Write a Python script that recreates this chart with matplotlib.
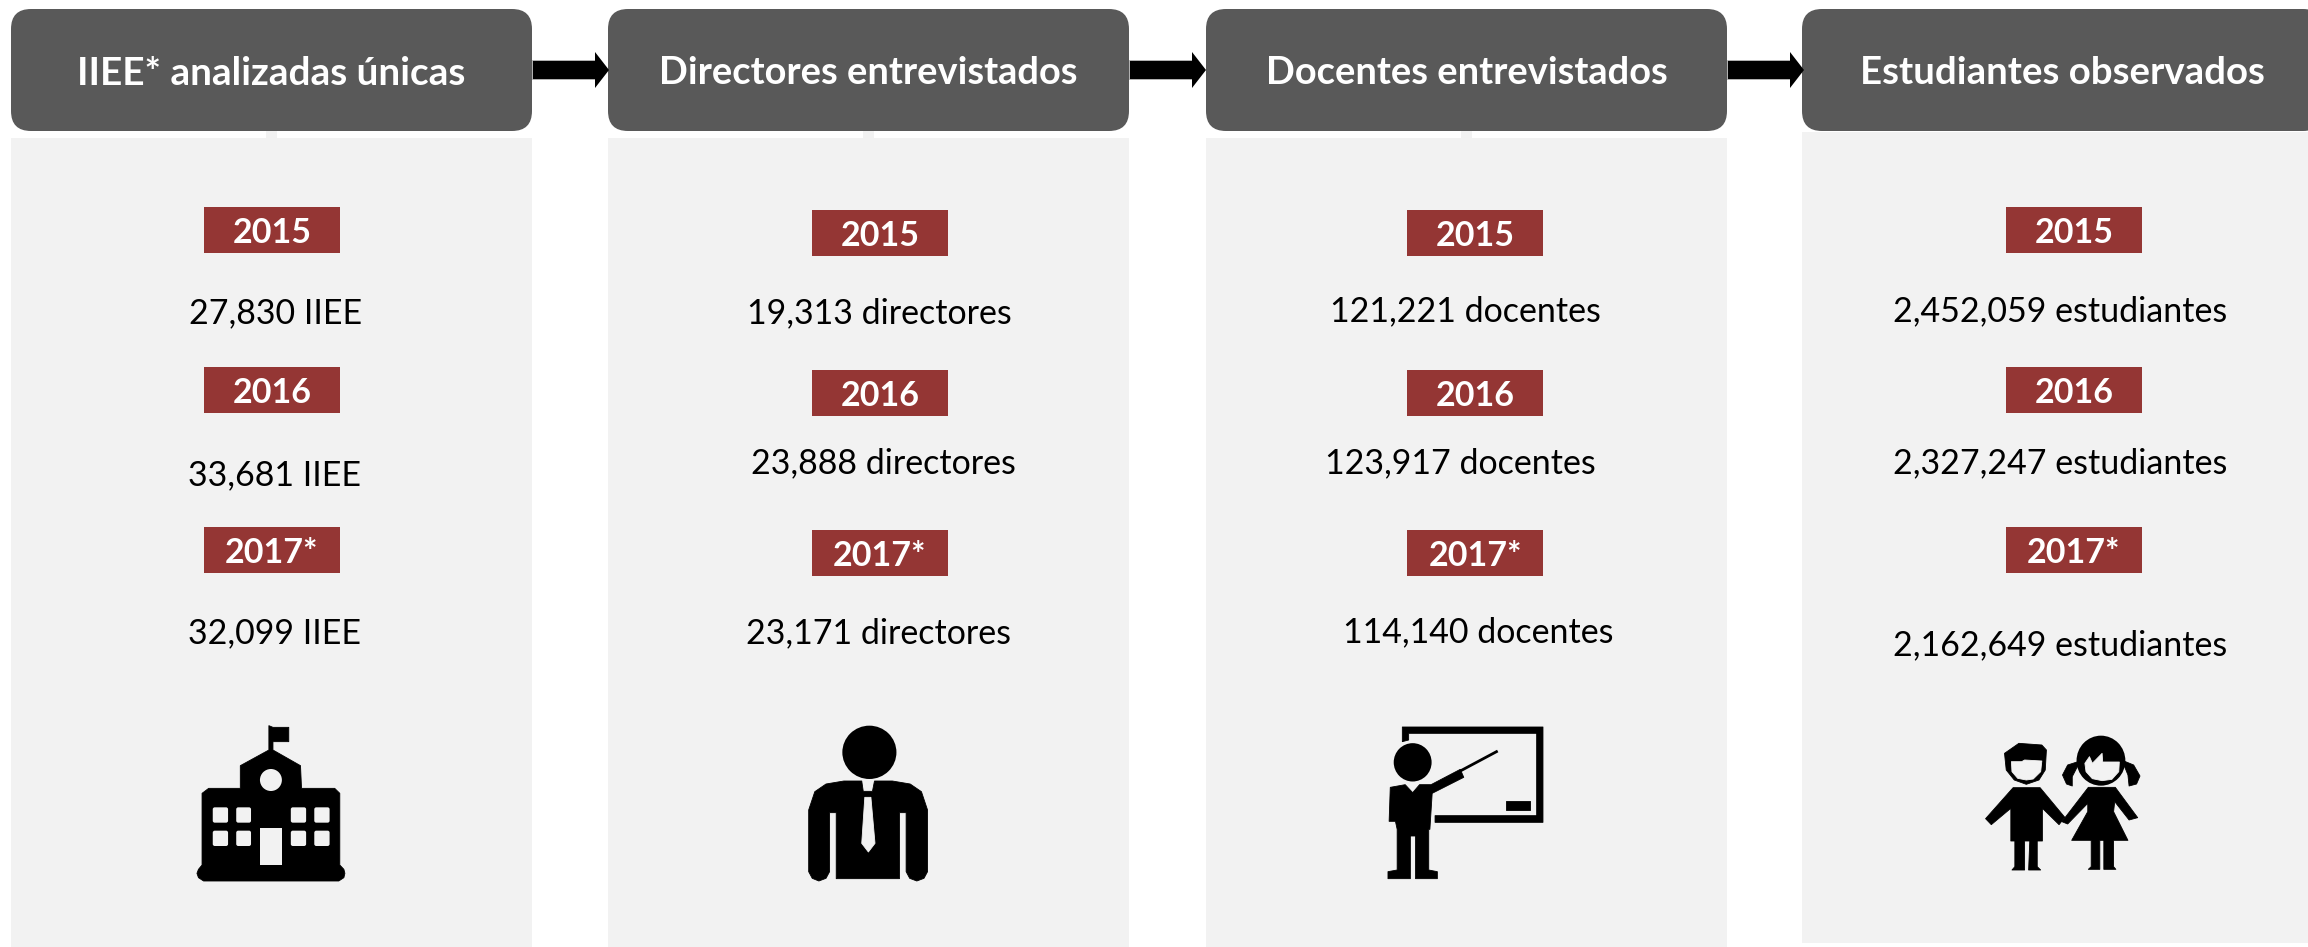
# Flujo de la muestra: IIEE, directores, docentes y estudiantes por año
import matplotlib
matplotlib.use("Agg")
import matplotlib.pyplot as plt
from matplotlib.patches import Rectangle, FancyBboxPatch, Polygon, Ellipse

plt.rcParams["font.family"] = ["Lato", "DejaVu Sans"]

titles = ["IIEE* analizadas únicas", "Directores entrevistados",
          "Docentes entrevistados", "Estudiantes observados"]
years = ["2015", "2016", "2017*"]
units = ["IIEE", "directores", "docentes", "estudiantes"]
iiee = [27830, 33681, 32099]
directores = [19313, 23888, 23171]
docentes = [121221, 123917, 114140]
estudiantes = [2452059, 2327247, 2162649]
values = [iiee, directores, docentes, estudiantes]

DARK = "#595959"
PANEL = "#f2f2f2"
RED = "#943634"

# layout, in full size pixels
col_left = [11, 608, 1206, 1802]
col_width = 521
panel_top = [138, 138, 138, 132]
panel_bottom = [947, 947, 947, 943]
badge_cx = [272, 880, 1475, 2074]
badge_cy = [[230, 390, 550], [233, 393, 553], [233, 393, 553], [230, 390, 550]]
text_cx = [[276, 274, 274], [879, 883, 879], [1465, 1460, 1478], [2060, 2060, 2060]]
text_cy = [[310, 472, 630], [310, 460, 630], [308, 460, 629], [308, 460, 642]]
title_fs = [27.9, 27.4, 27.4, 27.6]

fig = plt.figure(figsize=(23.08, 9.47), dpi=100)
ax = fig.add_axes([0, 0, 1, 1])
ax.set_xlim(0, 2308)
ax.set_ylim(947, 0)
ax.axis("off")


def poly(pts, fx, fy, color):
    ax.add_patch(Polygon([(fx(x), fy(y)) for x, y in pts], closed=True, fc=color, ec=color,
                         lw=0.6, joinstyle="round", zorder=4))


for i in range(4):
    left = col_left[i]
    ax.add_patch(Rectangle((left, panel_top[i]), col_width, panel_bottom[i] - panel_top[i],
                           fc=PANEL, ec="none", zorder=1))
    if i < 3:
        ax.add_patch(Rectangle((left + 255, 128), 11, 12, fc=PANEL, ec="none", zorder=1))
    ax.add_patch(FancyBboxPatch((left + 20, 9 + 20), col_width - 40, 122 - 40,
                                boxstyle="round,pad=20,rounding_size=20",
                                fc=DARK, ec="none", zorder=2, clip_on=True))
    ax.text(left + col_width / 2, 73, titles[i], color="white", fontsize=title_fs[i], fontweight="bold",
            ha="center", va="center", zorder=3)
    for j in range(3):
        ax.add_patch(Rectangle((badge_cx[i] - 68, badge_cy[i][j] - 23), 136, 46, fc=RED, ec="none", zorder=2))
        ax.text(badge_cx[i], badge_cy[i][j] + 3, years[j], color="white", fontsize=24.5, fontweight="bold",
                ha="center", va="center", zorder=3)
        ax.text(text_cx[i][j], text_cy[i][j] + 3, f"{values[i][j]:,} {units[i]}", color="black", fontsize=24.5,
                ha="center", va="center", zorder=3)

# arrows between the headers
for i in range(3):
    x0 = col_left[i] + col_width
    ax.add_patch(Rectangle((x0, 60), 64, 19, fc="black", ec="#bbbbbb", lw=0.6, zorder=2))
    ax.add_patch(Polygon([(x0 + 63, 52), (x0 + 77, 70), (x0 + 63, 88)], closed=True, fc="black", ec="none", zorder=3))


# building icon
def bx(x):
    return 150 + x / 1.96


def by(y):
    return 700 + y / 3


poly([(233, 77), (241, 82), (272, 82), (272, 125), (241, 125), (241, 150), (295, 197), (297, 265), (362, 265),
      (372, 280), (372, 495), (380, 508), (382, 520), (380, 533), (370, 543), (105, 543), (95, 533), (92, 520),
      (95, 508), (102, 495), (102, 280), (115, 265), (177, 265), (177, 197), (233, 150)], bx, by, "black")
for wx in [(123, 153), (169, 198), (276, 306), (322, 352)]:
    for wy in [(322, 368), (392, 438)]:
        ax.add_patch(FancyBboxPatch((bx(wx[0]) + 2, by(wy[0]) + 2), (wx[1] - wx[0]) / 1.96 - 4, (wy[1] - wy[0]) / 3 - 4,
                                    boxstyle="round,pad=2,rounding_size=2", fc=PANEL, ec="none", zorder=5))
ax.add_patch(Rectangle((bx(216), by(384)), 43 / 1.96, 110 / 3, fc=PANEL, ec="none", zorder=5))
ax.add_patch(Ellipse((bx(237), by(240)), 43 / 1.96, 66 / 3, fc=PANEL, ec="none", zorder=5))

# director icon
ax.add_patch(Ellipse((bx(1410), by(157)), 106 / 1.96, 160 / 3, fc="black", ec="none", zorder=4))
poly([(1395, 243), (1360, 243), (1325, 252), (1303, 275), (1291, 330), (1291, 515), (1298, 535), (1311, 543),
      (1325, 535), (1332, 515), (1332, 338), (1345, 338), (1345, 536), (1469, 536), (1469, 338), (1482, 338),
      (1482, 515), (1489, 535), (1503, 543), (1517, 535), (1524, 515), (1524, 330), (1512, 275), (1490, 252),
      (1455, 243), (1420, 243), (1416, 274), (1398, 274)], bx, by, "black")
poly([(1401, 292), (1413, 292), (1421, 430), (1408, 456), (1395, 430)], bx, by, PANEL)
ax.patches[-1].set_zorder(5)


# teacher icon
def tx(x):
    return 1330 + x / 1.742


poly([(126, 81), (371, 81), (371, 367), (183, 367), (183, 347), (360, 347), (360, 100), (137, 100), (137, 120),
      (126, 125)], tx, by, "black")
poly([(306, 302), (348, 302), (348, 331), (306, 331)], tx, by, "black")
ax.add_patch(Ellipse((tx(144), by(187)), 66 / 1.742, 115 / 3, fc="black", ec="none", zorder=4))
poly([(105, 262), (131, 254), (144, 278), (156, 254), (176, 254), (227, 208), (233, 232), (178, 280), (174, 388),
      (172, 388), (172, 510), (187, 515), (187, 536), (149, 536), (149, 408), (140, 408), (140, 536), (101, 536),
      (101, 515), (117, 510), (117, 388), (114, 364), (103, 364)], tx, by, "black")
ax.plot([tx(228), tx(290)], [by(212), by(155)], color="black", lw=2, zorder=4)

# children icon
poly([(1175, 160), (1200, 130), (1240, 135), (1248, 150), (1246, 210), (1235, 240), (1213, 253), (1192, 240),
      (1178, 210)], tx, by, "black")
poly([(1187, 185), (1205, 185), (1210, 180), (1240, 183), (1238, 215), (1225, 237), (1213, 240), (1198, 235),
      (1188, 215)], tx, by, PANEL)
ax.patches[-1].set_zorder(5)
poly([(1190, 263), (1237, 263), (1280, 352), (1270, 374), (1241, 325), (1241, 423), (1232, 423), (1232, 500),
      (1238, 510), (1217, 510), (1219, 423), (1210, 423), (1210, 510), (1188, 510), (1193, 500), (1193, 423),
      (1186, 423), (1186, 325), (1152, 374), (1142, 356)], tx, by, "black")
ax.add_patch(Ellipse((tx(1343), by(182)), 85 / 1.742, 150 / 3, fc="black", ec="none", zorder=4))
poly([(1315, 190), (1323, 170), (1328, 190), (1345, 160), (1346, 186), (1375, 186), (1374, 215), (1362, 238),
      (1345, 242), (1328, 236), (1317, 215)], tx, by, PANEL)
ax.patches[-1].set_zorder(5)
poly([(1303, 185), (1285, 195), (1276, 225), (1283, 252), (1293, 258), (1293, 230), (1305, 190)], tx, by, "black")
poly([(1383, 183), (1400, 195), (1411, 228), (1405, 252), (1392, 258), (1390, 225), (1383, 195)], tx, by, "black")
poly([(1321, 262), (1368, 262), (1407, 353), (1392, 360), (1367, 305), (1365, 335), (1390, 421), (1365, 421),
      (1365, 500), (1369, 508), (1348, 508), (1348, 421), (1341, 421), (1341, 508), (1321, 508), (1326, 500),
      (1326, 421), (1292, 421), (1320, 335), (1320, 310), (1285, 372), (1275, 365)], tx, by, "black")

fig.savefig("out.png", dpi=100)
